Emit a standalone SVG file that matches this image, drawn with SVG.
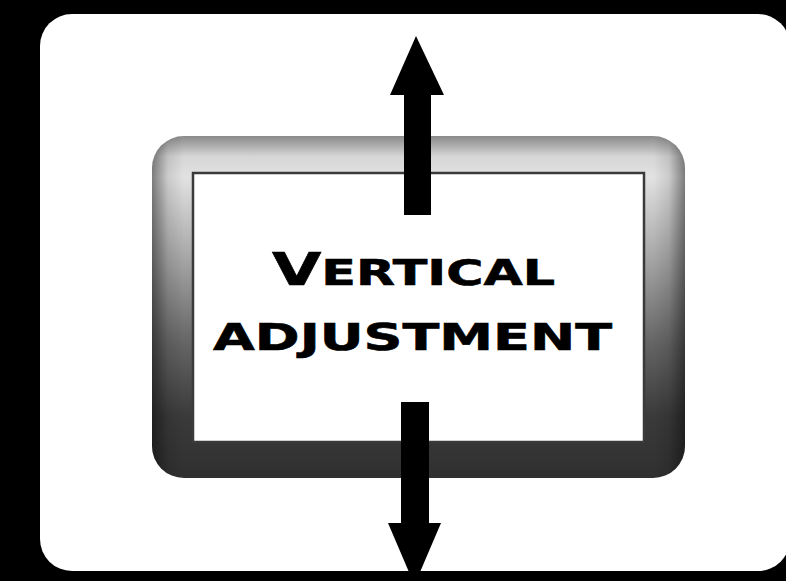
<svg xmlns="http://www.w3.org/2000/svg" width="786" height="581" viewBox="0 0 786 581">
  <defs>
    <linearGradient id="frameV" x1="0" y1="0" x2="0" y2="1">
      <stop offset="0" stop-color="#8a8a8a"/>
      <stop offset="0.06" stop-color="#d6d6d6"/>
      <stop offset="0.12" stop-color="#e2e2e2"/>
      <stop offset="0.35" stop-color="#a8a8a8"/>
      <stop offset="0.6" stop-color="#666"/>
      <stop offset="0.82" stop-color="#3a3a3a"/>
      <stop offset="1" stop-color="#303030"/>
    </linearGradient>
    <linearGradient id="frameH" x1="0" y1="0" x2="1" y2="0">
      <stop offset="0" stop-color="#000" stop-opacity="0.45"/>
      <stop offset="0.03" stop-color="#000" stop-opacity="0.1"/>
      <stop offset="0.06" stop-color="#000" stop-opacity="0"/>
      <stop offset="0.94" stop-color="#000" stop-opacity="0"/>
      <stop offset="0.97" stop-color="#000" stop-opacity="0.1"/>
      <stop offset="1" stop-color="#000" stop-opacity="0.45"/>
    </linearGradient>
    <style>
      .label { font-family: "DejaVu Sans", "Liberation Sans", sans-serif; font-weight: bold; fill: #000; stroke: #000; stroke-width: 0.6; }
      .arrow { fill: #000; }
    </style>
  </defs>
  <rect x="0" y="0" width="786" height="581" fill="#000"/>
  <rect id="panel" x="40" y="14" width="750" height="557" rx="32" fill="#fff"/>

  <g id="frame">
    <rect x="152" y="136" width="533" height="342" rx="32" fill="url(#frameV)"/>
    <rect x="152" y="136" width="533" height="342" rx="32" fill="url(#frameH)"/>
    <rect x="193" y="173" width="451" height="269" fill="#fff" stroke="#3a3a3a" stroke-width="2.5"/>
    <text class="label" x="272" y="285" textLength="283" lengthAdjust="spacingAndGlyphs"><tspan font-size="44">V</tspan><tspan font-size="35">ERTICAL</tspan></text>
    <text class="label" x="213" y="350" font-size="37" textLength="399" lengthAdjust="spacingAndGlyphs">ADJUSTMENT</text>
  </g>

  <g id="connectors">
    <polygon class="arrow" points="404,215 404,95 390,95 416,36 444,95 431,95 431,215"/>
    <polygon class="arrow" points="401,402 429,402 429,523 441,523 414.5,585 388,523 401,523"/>
  </g>
</svg>
